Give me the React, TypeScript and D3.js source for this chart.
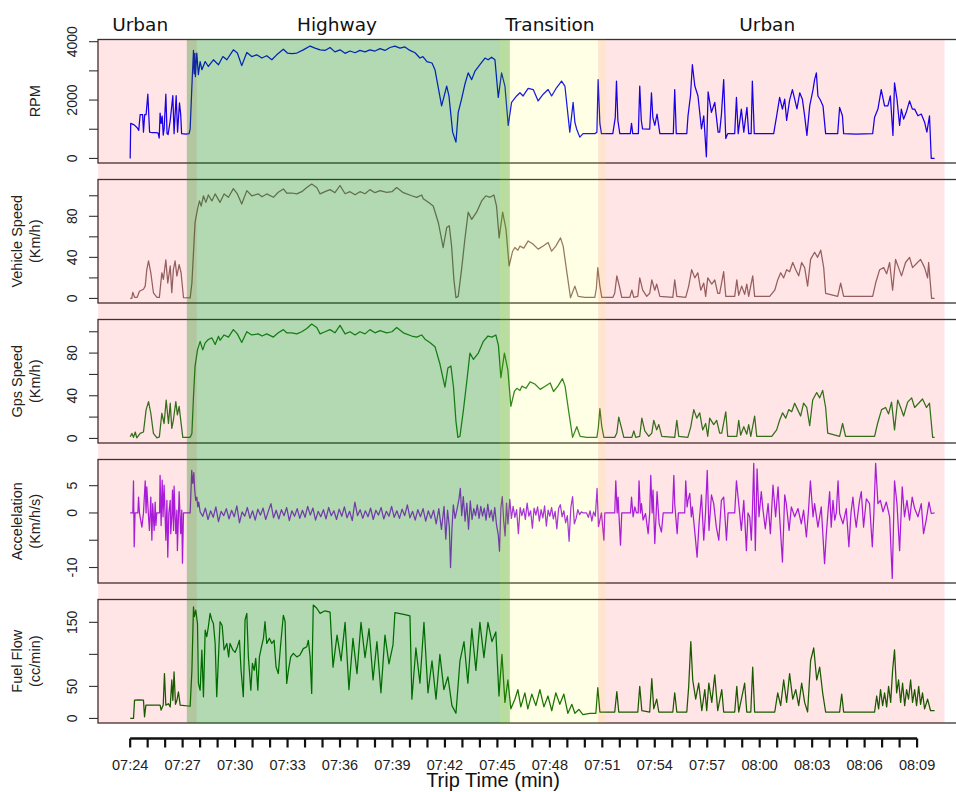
import React from 'react';
import * as d3 from 'd3';

// time is in minutes counted from 07:24
const tickLabels = ['07:24', '07:27', '07:30', '07:33', '07:36', '07:39', '07:42', '07:45', '07:48', '07:51', '07:54', '07:57', '08:00', '08:03', '08:06', '08:09'];
const tickMinutes = [0, 3, 6, 9, 12, 15, 18, 21, 24, 27, 30, 33, 36, 39, 42, 45];
const minorMinutes = d3.range(0, 46);

const regionNames = ['Urban', 'Highway', 'Transition', 'Urban'];
const regionStart = [-1.84, 3.24, 21.14, 26.76];
const regionEnd = [3.81, 21.71, 27.2, 46.57];
const regionLabelAt = [0.57, 11.83, 24.0, 36.43];
const regionFill = ['rgba(255,0,0,0.1)', 'rgba(0,128,0,0.3)', 'rgba(255,255,0,0.1)', 'rgba(255,0,0,0.1)'];

const rpm: [number, number][] = [
  [0, 0], [0.03, 1200], [0.23, 1150], [0.4, 1050], [0.49, 960], [0.57, 1500], [0.71, 1500], [0.76, 900], [0.83, 1500], [0.91, 1500],
  [1.01, 2200], [1.11, 900], [1.26, 880], [1.49, 880], [1.6, 870], [1.66, 700], [1.71, 1550], [1.77, 1200], [1.83, 1450], [1.89, 800],
  [1.94, 1000], [2.04, 2200], [2.11, 850], [2.17, 820], [2.29, 1300], [2.44, 2150], [2.51, 850], [2.63, 2150], [2.71, 900], [2.82, 1900],
  [2.89, 1500], [2.94, 850], [3.2, 830], [3.37, 850], [3.43, 1010], [3.53, 2480], [3.58, 3150], [3.62, 3700], [3.66, 2900], [3.7, 3600],
  [3.73, 2800], [3.81, 3610], [3.9, 2870], [4.0, 3320], [4.1, 3040], [4.29, 3320], [4.47, 3150], [4.76, 3380], [5.05, 3210], [5.3, 3490],
  [5.53, 3380], [5.9, 3720], [6.13, 3610], [6.38, 3180], [6.67, 3630], [6.95, 3490], [7.24, 3550], [7.53, 3440], [7.81, 3520], [8.1, 3380],
  [8.38, 3550], [8.76, 3740], [8.99, 3610], [9.24, 3590], [9.53, 3610], [9.9, 3720], [10.29, 3850], [10.57, 3780], [10.86, 3720], [11.14, 3700],
  [11.43, 3800], [11.71, 3650], [12.0, 3720], [12.29, 3600], [12.57, 3680], [12.86, 3620], [13.14, 3700], [13.43, 3650], [13.71, 3720], [14.0, 3680],
  [14.29, 3760], [14.57, 3700], [14.86, 3800], [15.14, 3850], [15.43, 3780], [15.71, 3820], [16.0, 3700], [16.29, 3620], [16.57, 3440], [16.74, 3490],
  [16.97, 3320], [17.26, 3270], [17.43, 3040], [17.81, 1800], [18.1, 2480], [18.23, 2140], [18.44, 900], [18.63, 560], [18.76, 1580], [18.95, 2030],
  [19.14, 2540], [19.33, 2930], [19.53, 2700], [19.71, 2980], [20.0, 3210], [20.29, 3440], [20.47, 3380], [20.67, 3470], [20.86, 3380], [21.05, 2090],
  [21.24, 2930], [21.43, 2480], [21.62, 1130], [21.81, 1920], [22.1, 2140], [22.29, 2250], [22.47, 2140], [22.76, 2400], [23.05, 2360], [23.33, 1970],
  [23.62, 2200], [23.9, 2360], [24.1, 2140], [24.38, 2420], [24.67, 2650], [24.86, 2480], [25.14, 900], [25.33, 1920], [25.43, 1240], [25.53, 1010],
  [25.71, 730], [25.9, 850], [26.57, 850], [26.69, 900], [26.76, 2700], [26.86, 1200], [26.95, 850], [27.6, 850], [27.74, 1400], [27.81, 2650],
  [27.89, 1300], [28.0, 850], [28.6, 850], [28.67, 1200], [28.74, 850], [29.06, 850], [29.14, 2480], [29.23, 1300], [29.3, 1010], [29.71, 1000],
  [29.81, 2250], [29.89, 1400], [30.0, 1130], [30.13, 1520], [30.29, 850], [31.06, 850], [31.14, 2360], [31.23, 850], [31.83, 850], [31.9, 1460],
  [32.04, 2140], [32.15, 3210], [32.29, 2480], [32.47, 2140], [32.67, 1010], [32.8, 1460], [32.95, 55], [33.05, 2280], [33.24, 1580], [33.43, 1920],
  [33.62, 900], [33.71, 900], [33.81, 1500], [33.94, 2700], [34.06, 680], [34.17, 850], [34.57, 850], [34.67, 2090], [34.77, 850], [34.95, 1690],
  [35.09, 900], [35.27, 1750], [35.37, 850], [35.51, 850], [35.58, 2650], [35.69, 850], [36.8, 850], [36.86, 1070], [36.97, 1460], [37.14, 2090],
  [37.3, 1690], [37.43, 2030], [37.54, 1300], [37.71, 2000], [37.87, 2360], [38.0, 2030], [38.13, 1700], [38.29, 2250], [38.44, 2030], [38.57, 1460],
  [38.7, 790], [38.86, 1800], [39.05, 2360], [39.14, 2700], [39.24, 2930], [39.33, 2140], [39.47, 2000], [39.62, 1800], [39.77, 850], [40.46, 850],
  [40.57, 1750], [40.73, 1460], [40.8, 850], [41.5, 830], [42.46, 850], [42.57, 1410], [42.76, 1690], [42.95, 2360], [43.14, 1800], [43.33, 1800],
  [43.47, 2140], [43.62, 790], [43.71, 2590], [43.85, 2030], [44.0, 1130], [44.1, 1690], [44.23, 1350], [44.38, 1580], [44.57, 1970], [44.73, 1690],
  [44.86, 1690], [45.05, 1460], [45.24, 1520], [45.43, 1240], [45.56, 900], [45.71, 1460], [45.81, 0], [46.0, 0],
];

const vehicleSpeed: [number, number][] = [
  [0, 0], [0.09, 0], [0.15, 6], [0.25, 1], [0.4, 1], [0.53, 7], [0.76, 9], [0.86, 12], [0.95, 28], [1.05, 36.5],
  [1.18, 25], [1.33, 5.5], [1.53, 1], [1.67, 1], [1.81, 25], [1.9, 18.6], [2.04, 37.5], [2.15, 15], [2.29, 31.6], [2.38, 5.6],
  [2.47, 28], [2.57, 36.5], [2.67, 21.8], [2.8, 33], [2.91, 25], [3.05, 0.7], [3.43, 0.5], [3.53, 15], [3.62, 44.7], [3.71, 74],
  [3.85, 87], [3.96, 95], [4.06, 90], [4.19, 100], [4.33, 93.6], [4.47, 100.8], [4.67, 95], [4.86, 101.8], [5.14, 93.6], [5.37, 101.8],
  [5.62, 98.5], [5.9, 107], [6.13, 101.8], [6.38, 92], [6.67, 105], [6.95, 100], [7.33, 101.8], [7.54, 99], [7.81, 101.8], [8.19, 98.5],
  [8.47, 103.4], [8.76, 106.7], [8.95, 102.7], [9.24, 102.7], [9.53, 101.8], [9.81, 104], [10.1, 108], [10.38, 111.4], [10.67, 108], [10.86, 101.8],
  [11.14, 104], [11.43, 106], [11.71, 103], [12.0, 110], [12.29, 102], [12.57, 104], [12.86, 101], [13.14, 104], [13.43, 102], [13.71, 106],
  [14.0, 103], [14.29, 105], [14.67, 103.4], [14.97, 104], [15.24, 108], [15.62, 103], [16.1, 100], [16.38, 98.5], [16.67, 100.8], [16.76, 97],
  [17.05, 93.6], [17.33, 90], [17.62, 74], [17.9, 49.6], [18.1, 69], [18.25, 70.7], [18.38, 51], [18.51, 18.6], [18.63, 0.7], [18.76, 2],
  [18.95, 28], [19.14, 57.7], [19.33, 84], [19.53, 77], [19.81, 84], [20.1, 95], [20.34, 100], [20.57, 98.5], [20.8, 100.8], [20.95, 90],
  [21.1, 59], [21.3, 84], [21.49, 67.5], [21.67, 31.6], [21.87, 46], [22.0, 49.6], [22.17, 47], [22.29, 51], [22.51, 49], [22.76, 56],
  [23.03, 53], [23.33, 48], [23.62, 51], [23.9, 54.5], [24.1, 46], [24.34, 51], [24.61, 59], [24.76, 51], [24.95, 28], [25.18, 0.7],
  [25.43, 12], [25.62, 2], [26.0, 1], [26.57, 1], [26.66, 10], [26.74, 30], [26.86, 12], [26.97, 1], [27.6, 1], [27.71, 5],
  [27.83, 22], [28.0, 10], [28.11, 1], [28.57, 1], [28.69, 8], [28.8, 1], [29.03, 2], [29.14, 20], [29.31, 8], [29.54, 2],
  [29.71, 5], [29.83, 18], [30.0, 8], [30.11, 14], [30.29, 2], [31.03, 1], [31.14, 18], [31.26, 2], [31.77, 1], [31.94, 12],
  [32.11, 28], [32.29, 20], [32.46, 25], [32.63, 8], [32.8, 15], [32.91, 2], [33.03, 20], [33.26, 14], [33.43, 18], [33.6, 5],
  [33.71, 5], [33.94, 26], [34.06, 2], [34.57, 2], [34.69, 18], [34.8, 3], [34.97, 12], [35.14, 4], [35.26, 14], [35.37, 2],
  [35.6, 22], [35.71, 2], [36.57, 2], [36.86, 8], [37.03, 18], [37.2, 25], [37.37, 20], [37.54, 28], [37.71, 26], [37.89, 35],
  [38.06, 28], [38.23, 22], [38.4, 35], [38.57, 30], [38.74, 12], [38.91, 38], [39.14, 45], [39.31, 40], [39.49, 47], [39.66, 30],
  [39.77, 5], [40.46, 2], [40.63, 15], [40.8, 2], [42.46, 2], [42.63, 15], [42.86, 28], [43.09, 30], [43.26, 24], [43.43, 35],
  [43.6, 8], [43.77, 38], [43.94, 30], [44.11, 22], [44.34, 35], [44.57, 40], [44.74, 30], [44.97, 34], [45.2, 38], [45.43, 30],
  [45.6, 20], [45.66, 35], [45.83, 0], [46.0, 0],
];

const gpsSpeed: [number, number][] = [
  [0, 1.5], [0.1, 4.7], [0.19, 1], [0.29, 6], [0.38, 0.5], [0.57, 4.7], [0.76, 6], [0.91, 26.7], [1.05, 34.5], [1.18, 23.6],
  [1.33, 4.7], [1.53, 0.5], [1.67, 1.5], [1.81, 23.6], [1.94, 14], [2.06, 36], [2.19, 14], [2.29, 33], [2.38, 9.4], [2.47, 17],
  [2.61, 34.5], [2.7, 22], [2.8, 30], [2.9, 15.7], [3.01, 1], [3.43, 1], [3.53, 4.7], [3.62, 39], [3.71, 67.5], [3.85, 83],
  [4.0, 91], [4.15, 83], [4.29, 89.6], [4.47, 92.7], [4.67, 94.3], [4.86, 88], [5.05, 95.8], [5.14, 92], [5.37, 97], [5.62, 95],
  [5.9, 102], [6.13, 98], [6.38, 90], [6.67, 100], [6.95, 97], [7.33, 98], [7.54, 96], [7.81, 98], [8.19, 95], [8.47, 99],
  [8.76, 102], [8.95, 99], [9.24, 99], [9.53, 98], [9.81, 100], [10.1, 103], [10.38, 107.2], [10.67, 104], [10.86, 98], [11.14, 100],
  [11.43, 102], [11.71, 99], [12.0, 106], [12.29, 98], [12.57, 100], [12.86, 97], [13.14, 100], [13.43, 98], [13.71, 102], [14.0, 99],
  [14.29, 101], [14.67, 99], [14.97, 100], [15.24, 104], [15.62, 99], [16.1, 96], [16.38, 95], [16.67, 97], [16.86, 93], [17.14, 90],
  [17.43, 86], [17.71, 70], [18.0, 48], [18.17, 66], [18.34, 68], [18.49, 48], [18.63, 16], [18.74, 1], [18.86, 2], [19.06, 27],
  [19.26, 55], [19.43, 80], [19.63, 74], [19.91, 80], [20.2, 91], [20.46, 96], [20.69, 95], [20.91, 97], [21.06, 87], [21.2, 57],
  [21.4, 80], [21.6, 64], [21.77, 30], [21.97, 44], [22.11, 47], [22.29, 45], [22.4, 49], [22.63, 47], [22.87, 53], [23.14, 51],
  [23.45, 46], [23.73, 49], [24.02, 52], [24.21, 44], [24.46, 49], [24.72, 56], [24.87, 49], [25.07, 26], [25.3, 1], [25.54, 11],
  [25.73, 2], [26.11, 1], [26.69, 1], [26.77, 10], [26.86, 28], [26.97, 11], [27.09, 1], [27.71, 1], [27.83, 5], [27.94, 20],
  [28.11, 9], [28.23, 1], [28.69, 1], [28.8, 7], [28.91, 1], [29.14, 2], [29.26, 19], [29.43, 7], [29.66, 2], [29.83, 5],
  [29.94, 17], [30.11, 8], [30.23, 13], [30.4, 2], [31.14, 1], [31.26, 17], [31.37, 2], [31.89, 1], [32.06, 11], [32.23, 27],
  [32.4, 19], [32.57, 24], [32.74, 8], [32.91, 14], [33.03, 2], [33.14, 19], [33.37, 13], [33.54, 17], [33.71, 5], [33.83, 5],
  [34.06, 25], [34.17, 2], [34.69, 2], [34.8, 17], [34.91, 3], [35.09, 11], [35.26, 4], [35.37, 13], [35.49, 2], [35.71, 21],
  [35.83, 2], [36.69, 2], [36.97, 8], [37.14, 17], [37.31, 24], [37.49, 19], [37.66, 27], [37.83, 25], [38.0, 33], [38.17, 27],
  [38.34, 21], [38.51, 33], [38.69, 29], [38.86, 12], [39.03, 36], [39.26, 43], [39.43, 38], [39.6, 45], [39.77, 29], [39.89, 5],
  [40.57, 2], [40.74, 14], [40.91, 2], [42.57, 2], [42.74, 14], [42.97, 27], [43.2, 29], [43.37, 23], [43.54, 34], [43.71, 8],
  [43.89, 36], [44.06, 29], [44.23, 21], [44.46, 34], [44.69, 38], [44.86, 29], [45.09, 33], [45.31, 37], [45.54, 29], [45.71, 33],
  [45.89, 1], [46.0, 1],
];

const acceleration: [number, number][] = [
  [0, 0], [0.15, 0], [0.19, 5.9], [0.23, -6.2], [0.28, 0], [0.44, 0], [0.48, 2.9], [0.53, 0], [0.67, -2.6], [0.76, 0],
  [0.86, 5.9], [0.91, 0], [0.95, 4.8], [1.05, -0.7], [1.1, -3.2], [1.18, 2.9], [1.24, -5], [1.29, 1.7], [1.37, -3.2], [1.43, 2],
  [1.47, -2.3], [1.52, 0], [1.68, 0], [1.71, 6.9], [1.77, -2.3], [1.83, 6], [1.88, -0.7], [1.94, 5.1], [2.0, -0.7], [2.04, -5],
  [2.1, 2.3], [2.15, -8.1], [2.21, -0.1], [2.29, 2.3], [2.32, -3.8], [2.38, -0.7], [2.42, 4.2], [2.48, -3.2], [2.51, 4.9], [2.57, -0.7],
  [2.61, -3.8], [2.67, 0.5], [2.7, -6.9], [2.76, -0.7], [2.8, 3.9], [2.86, -1.3], [2.89, -3.8], [2.95, 0.5], [2.99, -9.2], [3.05, 0],
  [3.43, 0], [3.52, 7.8], [3.58, 5.4], [3.64, 7.4], [3.69, 4.2], [3.75, 2.3], [3.81, 2.9], [3.87, 1.1], [3.92, 2], [4.0, 0.2],
  [4.15, -0.6], [4.3, 0.9], [4.45, -1.2], [4.6, 0.4], [4.75, -0.8], [4.9, 1.1], [5.05, -1.6], [5.2, 0.3], [5.35, -0.5], [5.5, 0.8],
  [5.65, -1.1], [5.8, 0.5], [5.95, -0.7], [6.1, 1.3], [6.25, -1.8], [6.4, 0.2], [6.55, -0.6], [6.7, 1.0], [6.85, -1.0], [7.0, 0.4],
  [7.15, -1.3], [7.3, 0.7], [7.45, -0.4], [7.6, 0.9], [7.75, -1.2], [7.9, 0.3], [8.05, 1.7], [8.2, -0.9], [8.35, 0.5], [8.5, -1.1],
  [8.65, 0.6], [8.8, -0.5], [8.95, 1.0], [9.1, -1.4], [9.25, 0.4], [9.4, -0.6], [9.55, 0.8], [9.7, -1.0], [9.85, 0.5], [10.0, -0.8],
  [10.15, 1.2], [10.3, -0.4], [10.45, 0.9], [10.6, -1.3], [10.75, 0.3], [10.9, -0.7], [11.05, 0.6], [11.2, -1.1], [11.35, 1.0], [11.5, -0.5],
  [11.65, 0.4], [11.8, -1.2], [11.95, 0.7], [12.1, -0.6], [12.25, 1.1], [12.4, -0.9], [12.55, 0.3], [12.7, -1.4], [12.85, 2.0], [13.0, -0.5],
  [13.15, 0.6], [13.3, -1.0], [13.45, 0.4], [13.6, -0.7], [13.75, 0.9], [13.9, -1.2], [14.05, 0.5], [14.2, -0.4], [14.35, 1.0], [14.5, -1.1],
  [14.65, 0.3], [14.8, -0.6], [14.95, 1.2], [15.1, -0.8], [15.25, 0.4], [15.4, -1.0], [15.55, 0.7], [15.7, -0.5], [15.85, 1.5], [16.0, -0.9],
  [16.15, 0.3], [16.3, -1.3], [16.45, 0.6], [16.6, -0.7], [16.75, 0.8], [16.9, -1.5], [17.05, 0.4], [17.2, -1.0], [17.35, 0.5], [17.5, -2.0],
  [17.65, 0.8], [17.8, -3.0], [17.95, 1.2], [18.05, -4.8], [18.15, 0.5], [18.25, -2.5], [18.32, -10.0], [18.4, -3.0], [18.48, 1.5], [18.58, -1.0],
  [18.68, 0.5], [18.8, 2.5], [18.88, 4.5], [18.96, -0.5], [19.05, 3.0], [19.15, -1.5], [19.25, 1.8], [19.35, -3.0], [19.45, 2.2], [19.55, -1.2],
  [19.65, 0.8], [19.75, -0.5], [19.85, 1.5], [19.95, -1.0], [20.05, 1.2], [20.15, -0.6], [20.25, 0.9], [20.35, -1.3], [20.45, 1.6], [20.55, -0.8],
  [20.65, 0.5], [20.75, -1.5], [20.85, 1.0], [20.95, -2.2], [21.05, -4.0], [21.12, -7.0], [21.2, 1.0], [21.28, 3.0], [21.36, -1.5], [21.44, -4.2],
  [21.52, 1.8], [21.6, -2.0], [21.71, 2.5], [21.8, -1.0], [21.9, 1.2], [22.0, -0.8], [22.1, 0.6], [22.2, -3.8], [22.3, 1.0], [22.4, -0.5],
  [22.5, 0.8], [22.6, -1.2], [22.7, 1.8], [22.8, -0.6], [22.9, 0.4], [23.0, -2.8], [23.1, 0.9], [23.2, -0.4], [23.3, 1.1], [23.4, -1.5],
  [23.5, 0.6], [23.6, -0.9], [23.7, 1.3], [23.8, -2.4], [23.9, 0.5], [24.0, -0.6], [24.1, 1.0], [24.2, -1.1], [24.3, 0.3], [24.4, -2.9],
  [24.5, 0.8], [24.6, 1.5], [24.7, -0.7], [24.8, 0.4], [24.9, -1.8], [25.0, -0.5], [25.1, -5.2], [25.2, 1.0], [25.3, 3.0], [25.4, -2.0],
  [25.5, -1.0], [25.6, 0.6], [25.7, -0.3], [25.8, 0.2], [25.9, 0], [26.1, 0], [26.2, -0.8], [26.3, 0.4], [26.4, -1.5], [26.5, 0.2],
  [26.6, -0.6], [26.7, 4.5], [26.78, -2.5], [26.86, -1.3], [26.95, 0], [27.09, -5.0], [27.14, 0], [27.71, 0], [27.77, 5.9], [27.85, 0],
  [27.9, 2.9], [28.04, -5.9], [28.11, 0], [28.61, 0], [28.67, 2.9], [28.76, -0.7], [28.86, 1.1], [28.95, 0], [29.05, 0], [29.1, 5.9],
  [29.18, 0], [29.24, 1.7], [29.33, -1.3], [29.47, -0.1], [29.62, -3.8], [29.71, 0], [29.77, 6.9], [29.85, 0], [29.9, 4.2], [30.0, -5.6],
  [30.08, 0], [30.13, 3.9], [30.25, -2.0], [30.38, -3.5], [30.48, 0], [31.01, 0], [31.09, 6.9], [31.14, 1.7], [31.2, -0.7], [31.28, -3.8],
  [31.35, 0], [31.71, 0], [31.77, 5.9], [31.85, 1.1], [31.9, 2.3], [32.0, 3.6], [32.09, -0.7], [32.15, 1.1], [32.28, -3.2], [32.42, -8.1],
  [32.53, -2.0], [32.67, 3.3], [32.8, -5.0], [32.9, 0], [33.0, 7.8], [33.1, -3.2], [33.24, 3.3], [33.37, 1.7], [33.52, -2.6], [33.66, -5.0],
  [33.81, 2.3], [33.94, 2.9], [34.1, -5.0], [34.19, 0], [34.57, 0], [34.67, 5.9], [34.82, 1.1], [34.95, -3.2], [35.09, 2.3], [35.24, -6.9],
  [35.33, 0], [35.43, -0.7], [35.52, -5.0], [35.58, 0], [35.66, 9.1], [35.75, -6.9], [35.85, 8.1], [35.96, -0.7], [36.09, 3.9], [36.19, 0.5],
  [36.32, -2.9], [36.48, 1.7], [36.61, -3.8], [36.76, 5.1], [36.91, -0.7], [37.05, 4.8], [37.14, -0.7], [37.3, -9.0], [37.43, 3.3], [37.52, 1.7],
  [37.68, -3.2], [37.81, 1.1], [38.0, -0.7], [38.19, 0.8], [38.38, -2.0], [38.51, 0.5], [38.67, -4.4], [38.78, 0], [38.9, 5.9], [39.05, -0.7],
  [39.14, 1.7], [39.33, -2.6], [39.52, 1.1], [39.71, -9.3], [39.81, -3.8], [39.9, 0], [40.0, 3.9], [40.09, -2.6], [40.19, 2.3], [40.29, -1.3],
  [40.38, 0], [40.48, 5.9], [40.57, -0.1], [40.76, -2.0], [40.95, 0.8], [41.1, -6.2], [41.22, 0], [41.33, 2.9], [41.43, -0.4], [41.52, -2.6],
  [41.62, 0], [41.71, 2.3], [41.81, 3.9], [41.94, -2.6], [42.1, 2.6], [42.28, 1.7], [42.44, -6.2], [42.53, 0], [42.63, 9.1], [42.76, 1.7],
  [42.9, 2.3], [43.05, 0.2], [43.24, 2.0], [43.43, -0.7], [43.58, -12.0], [43.71, 5.9], [43.85, 1.7], [44.0, -6.9], [44.15, 4.8], [44.28, -0.7],
  [44.42, 2.3], [44.57, -1.3], [44.72, 2.9], [44.86, 0.8], [45.05, -0.7], [45.24, 1.7], [45.37, -3.8], [45.52, -1.3], [45.68, 2.0], [45.81, -0.1],
  [46.0, 0],
];

const fuelFlow: [number, number][] = [
  [0, 0], [0.19, 0], [0.25, 28.6], [0.47, 29], [0.76, 28.6], [0.82, 2.5], [0.9, 20.8], [1.71, 20.8], [1.77, 13], [1.89, 21],
  [1.96, 70], [2.04, 20.8], [2.19, 23], [2.29, 18], [2.38, 60], [2.44, 28], [2.51, 72.8], [2.59, 22], [2.67, 28], [2.76, 41.6],
  [2.86, 20.8], [3.43, 19], [3.53, 75], [3.62, 174], [3.67, 159], [3.75, 169], [3.85, 148], [3.9, 54.7], [4.0, 44], [4.1, 106.7],
  [4.19, 33.8], [4.29, 138], [4.38, 127.5], [4.47, 143], [4.57, 164], [4.67, 153.6], [4.76, 148], [4.86, 117], [4.95, 34], [5.05, 96],
  [5.14, 151], [5.26, 145], [5.37, 107], [5.53, 117], [5.63, 96], [5.71, 117], [5.87, 107], [6.0, 103], [6.13, 112], [6.25, 122],
  [6.34, 75.5], [6.47, 34], [6.57, 153.6], [6.67, 164], [6.76, 96], [6.9, 44], [6.99, 86], [7.09, 75], [7.18, 93.8], [7.3, 44],
  [7.39, 96], [7.53, 114.5], [7.62, 125], [7.71, 151], [7.81, 117], [7.96, 125], [8.1, 117], [8.23, 122], [8.34, 80.6], [8.47, 70],
  [8.61, 117], [8.76, 161], [8.86, 151], [8.95, 54.7], [9.05, 75], [9.18, 96], [9.33, 101.6], [9.53, 96], [9.71, 99], [9.9, 109],
  [10.1, 112], [10.19, 122], [10.29, 96], [10.38, 39], [10.47, 177], [10.67, 172], [10.86, 164], [11.14, 168], [11.43, 166], [11.6, 80],
  [11.83, 130], [12.06, 90], [12.29, 150], [12.51, 45], [12.74, 125], [12.97, 70], [13.2, 150], [13.43, 95], [13.66, 140], [13.89, 60],
  [14.11, 120], [14.34, 40], [14.57, 130], [14.8, 85], [15.03, 115], [15.14, 165], [15.71, 162], [16.0, 160], [16.11, 30], [16.34, 110],
  [16.57, 55], [16.8, 150], [17.03, 40], [17.26, 90], [17.49, 30], [17.71, 100], [17.94, 45], [18.17, 65], [18.4, 20], [18.63, 8],
  [18.86, 90], [19.09, 120], [19.31, 55], [19.54, 140], [19.77, 75], [20.0, 150], [20.23, 95], [20.46, 150], [20.69, 120], [20.91, 135],
  [21.09, 35], [21.26, 100], [21.43, 25], [21.6, 60], [21.77, 15], [22.0, 30], [22.17, 45], [22.34, 18], [22.57, 40], [22.74, 15],
  [22.97, 38], [23.2, 20], [23.43, 45], [23.66, 18], [23.89, 35], [24.11, 12], [24.34, 40], [24.57, 22], [24.8, 38], [25.03, 8],
  [25.26, 22], [25.43, 8], [25.66, 14], [25.89, 6], [26.29, 8], [26.63, 8], [26.74, 48], [26.86, 10], [27.71, 10], [27.83, 42],
  [27.94, 10], [29.03, 10], [29.14, 50], [29.26, 12], [29.71, 10], [29.83, 62], [29.94, 15], [30.11, 30], [30.23, 10], [31.03, 10],
  [31.14, 40], [31.26, 10], [31.83, 10], [31.94, 50], [32.06, 120], [32.17, 60], [32.34, 30], [32.51, 55], [32.69, 12], [32.86, 45],
  [32.97, 12], [33.09, 55], [33.26, 25], [33.43, 68], [33.6, 12], [33.83, 45], [33.94, 10], [34.57, 10], [34.69, 50], [34.8, 10],
  [35.14, 55], [35.26, 10], [35.49, 10], [35.6, 80], [35.71, 10], [36.86, 10], [37.03, 40], [37.2, 20], [37.37, 60], [37.54, 25],
  [37.71, 70], [37.89, 30], [38.06, 45], [38.23, 20], [38.4, 55], [38.57, 25], [38.74, 10], [38.91, 90], [39.09, 110], [39.26, 60],
  [39.43, 80], [39.6, 40], [39.77, 10], [40.57, 10], [40.69, 38], [40.8, 10], [42.57, 10], [42.69, 35], [42.8, 15], [42.91, 45],
  [43.03, 20], [43.14, 40], [43.26, 18], [43.37, 50], [43.49, 25], [43.6, 75], [43.71, 107], [43.83, 40], [43.94, 60], [44.06, 25],
  [44.17, 55], [44.29, 20], [44.4, 45], [44.51, 30], [44.63, 60], [44.74, 25], [44.86, 45], [44.97, 20], [45.09, 50], [45.2, 22],
  [45.31, 40], [45.43, 15], [45.6, 30], [45.77, 12], [46.0, 12],
];

const panels = [
  { data: rpm, color: '#0000ff', title: ['RPM'], extent: [0, 3918], ticks: [0, 1000, 2000, 3000, 4000], labels: [0, 2000, 4000] },
  { data: vehicleSpeed, color: '#8b6969', title: ['Vehicle Speed', '(Km/h)'], extent: [0, 111.4], ticks: [0, 20, 40, 60, 80, 100], labels: [0, 40, 80] },
  { data: gpsSpeed, color: '#1e7b1e', title: ['Gps Speed', '(Km/h)'], extent: [0, 107.2], ticks: [0, 20, 40, 60, 80, 100], labels: [0, 40, 80] },
  { data: acceleration, color: '#a020f0', title: ['Accelelation', '(Km/h/s)'], extent: [-12, 8.96], ticks: [-10, -5, 0, 5], labels: [-10, 0, 5] },
  { data: fuelFlow, color: '#006400', title: ['Fuel Flow', '(cc/min)'], extent: [0, 178.5], ticks: [0, 50, 100, 150], labels: [0, 50, 150] },
];

const width = 956;
const height = 792;
const plotLeft = 98;
const plotRight = 965;
const panelTop = 39.5;
const panelStep = 140;
const panelHeight = 123.5;
const axisY = 738.5;
const sans = '"Liberation Sans", Arial, sans-serif';

const x = d3.scaleLinear().domain([-1.84, 47.74]).range([plotLeft, plotRight]);

const App = () => {
  const bandBottom = panelTop + panelStep * (panels.length - 1) + panelHeight;
  return (
    <svg width={width} height={height} style={{ position: 'absolute', left: 0, top: 0, background: '#fff' }}>
      {panels.map((p, i) => {
        const top = panelTop + i * panelStep;
        const bottom = top + panelHeight;
        const pad = (p.extent[1] - p.extent[0]) * 0.04;
        const y = d3.scaleLinear().domain([p.extent[0] - pad, p.extent[1] + pad]).range([bottom, top]);
        const line = d3.line<[number, number]>().x(d => x(d[0])).y(d => y(d[1]));
        const mid = (top + bottom) / 2;
        return (
          <g key={`panel-${i}`}>
            <path d={line(p.data) || ''} fill='none' stroke={p.color} strokeWidth={1.25} strokeLinejoin='round' />
            <rect x={plotLeft} y={top} width={plotRight - plotLeft} height={panelHeight} fill='none' stroke='#333' strokeWidth={1.3} />
            {p.ticks.map(t => (
              <line key={`t-${t}`} x1={plotLeft - 9} x2={plotLeft} y1={y(t)} y2={y(t)} stroke='#333' strokeWidth={1.1} />
            ))}
            {p.labels.map(t => (
              <text key={`l-${t}`} transform={`translate(77,${y(t)}) rotate(-90)`} textAnchor='middle'
                fontFamily={sans} fontSize={14} fill='#222'>{t}</text>
            ))}
            {p.title.length === 1
              ? <text transform={`translate(39.5,${mid}) rotate(-90)`} textAnchor='middle' fontFamily={sans} fontSize={14.5} fill='#222'>{p.title[0]}</text>
              : p.title.map((s, k) => (
                <text key={`ti-${k}`} transform={`translate(${k === 0 ? 21.5 : 39.5},${mid}) rotate(-90)`} textAnchor='middle'
                  fontFamily={sans} fontSize={14.5} fill='#222'>{s}</text>
              ))}
          </g>
        );
      })}

      {/* driving regions laid over the traces */}
      {regionNames.map((r, i) => (
        <rect key={`region-${i}`} x={x(regionStart[i])} y={panelTop} width={x(regionEnd[i]) - x(regionStart[i])}
          height={bandBottom - panelTop} fill={regionFill[i]} />
      ))}
      {regionNames.map((r, i) => (
        <text key={`rl-${i}`} x={x(regionLabelAt[i])} y={31} textAnchor='middle'
          fontFamily='"DejaVu Sans", sans-serif' fontSize={18.5} fill='#111'>{r}</text>
      ))}

      {/* time axis */}
      <line x1={x(0)} x2={x(45)} y1={axisY} y2={axisY} stroke='#111' strokeWidth={2.5} />
      {minorMinutes.map(m => (
        <line key={`mt-${m}`} x1={x(m)} x2={x(m)} y1={axisY} y2={axisY + 9} stroke='#111' strokeWidth={2.2} />
      ))}
      {tickMinutes.map((m, i) => (
        <text key={`xt-${m}`} x={x(m)} y={770} textAnchor='middle' fontFamily={sans} fontSize={14.5} fill='#222'>{tickLabels[i]}</text>
      ))}
      <text x={493} y={787} textAnchor='middle' fontFamily={sans} fontSize={20} fill='#111'>Trip Time (min)</text>
    </svg>
  );
};

export default App;
